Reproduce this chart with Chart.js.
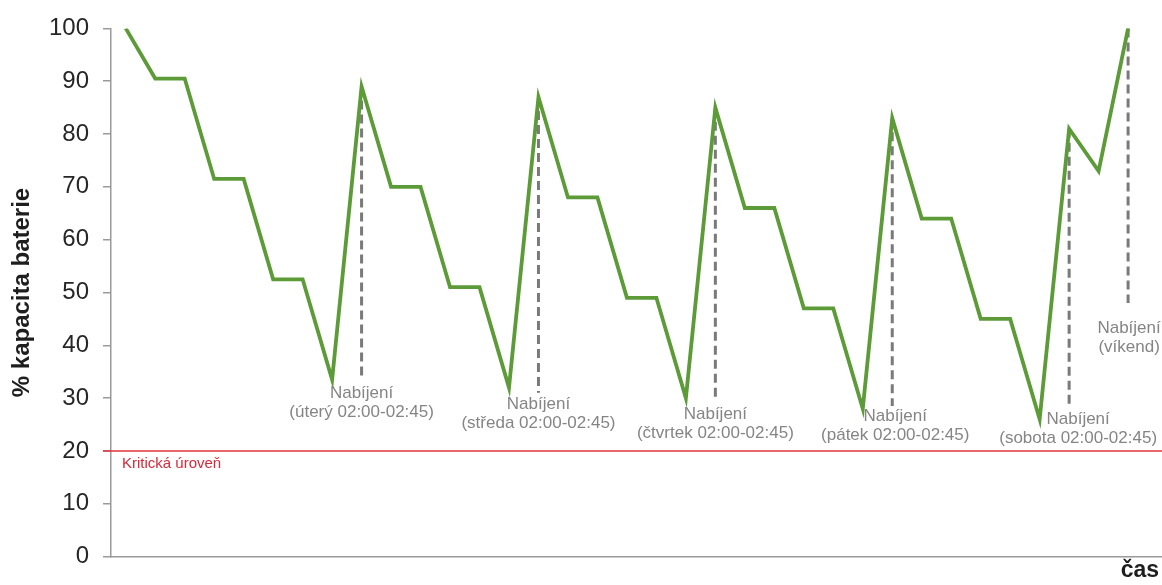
<!DOCTYPE html>
<html>
<head>
<meta charset="utf-8">
<script src="https://cdn.jsdelivr.net/npm/chart.js@4/dist/chart.umd.min.js"></script>
<style>
  html, body { margin: 0; padding: 0; background: #fff; }
  #wrap { width: 1162px; height: 585px; }
</style>
</head>
<body>
<div id="wrap"><canvas id="c"></canvas></div>
<script>
// Time steps (x) and battery capacity in % (y)
const steps = [0, 1, 2, 3, 4, 5, 6, 7, 8, 9, 10, 11, 12, 13, 14, 15, 16, 17, 18, 19,
               20, 21, 22, 23, 24, 25, 26, 27, 28, 29, 30, 31, 32, 33, 34];
const capacity = [100, 90.5, 90.5, 71.5, 71.5, 52.5, 52.5, 33.5,
                  89, 70, 70, 51, 51, 32,
                  87, 68, 68, 49, 49, 30,
                  85, 66, 66, 47, 47, 28,
                  83, 64, 64, 45, 45, 26,
                  81, 73, 100];
const yTicks = [0, 10, 20, 30, 40, 50, 60, 70, 80, 90, 100];

// Charging moments: step index, label text and where the dashed marker ends
const chargeSteps = [8, 14, 20, 26, 32, 34];
const chargeTitle = 'Nabíjení';
const chargeWhen = ['(úterý 02:00-02:45)', '(středa 02:00-02:45)', '(čtvrtek 02:00-02:45)',
                    '(pátek 02:00-02:45)', '(sobota 02:00-02:45)', '(víkend)'];
const chargeDashEnd = [33.5, 31, 29.5, 28.5, 28, 48];
const chargeLabelAt = [31, 28.9, 26.9, 26.5, 25.9, 43.2];
const chargeLabelShift = [0, 0, 0, 3, 9, 1];

const criticalLevel = 20;
const criticalText = 'Kritická úroveň';
const yTitle = '% kapacita baterie';
const xTitle = 'čas';

const FONT = "'Liberation Sans', Arial, sans-serif";

const overlay = {
  id: 'overlay',
  beforeDatasetsDraw(chart) {
    const { ctx, chartArea, scales: { x, y } } = chart;
    ctx.save();
    // critical level line
    const yc = y.getPixelForValue(criticalLevel);
    ctx.strokeStyle = '#e0323c';
    ctx.lineWidth = 1.5;
    ctx.beginPath();
    ctx.moveTo(chartArea.left - 8, yc);
    ctx.lineTo(chart.width, yc);
    ctx.stroke();
    // dashed charging markers
    ctx.strokeStyle = '#7a7a7a';
    ctx.lineWidth = 3;
    ctx.setLineDash([9, 5]);
    chargeSteps.forEach((s, i) => {
      const px = x.getPixelForValue(s);
      ctx.beginPath();
      ctx.moveTo(px, y.getPixelForValue(capacity[s]));
      ctx.lineTo(px, y.getPixelForValue(chargeDashEnd[i]));
      ctx.stroke();
    });
    ctx.restore();
  },
  afterDraw(chart) {
    const { ctx, chartArea, scales: { x, y } } = chart;
    ctx.save();
    // charging labels
    ctx.fillStyle = '#858585';
    ctx.font = `17px ${FONT}`;
    ctx.textAlign = 'center';
    ctx.textBaseline = 'middle';
    chargeSteps.forEach((s, i) => {
      const px = x.getPixelForValue(s) + chargeLabelShift[i];
      const py = y.getPixelForValue(chargeLabelAt[i]);
      ctx.fillText(chargeTitle, px, py);
      ctx.fillText(chargeWhen[i], px, py + 19);
    });
    // critical level caption
    ctx.fillStyle = '#d42a3a';
    ctx.font = `15px ${FONT}`;
    ctx.textAlign = 'left';
    ctx.fillText(criticalText, chartArea.left + 11, y.getPixelForValue(criticalLevel) + 13);
    // axis titles
    ctx.fillStyle = '#1e1e1e';
    ctx.font = `bold 23px ${FONT}`;
    ctx.textAlign = 'right';
    ctx.fillText(xTitle, chart.width - 3, 571);
    ctx.font = `bold 24px ${FONT}`;
    ctx.translate(22, (chartArea.top + chartArea.bottom) / 2);
    ctx.rotate(-Math.PI / 2);
    ctx.textAlign = 'center';
    ctx.fillText(yTitle, 0, 0);
    ctx.restore();
  }
};

new Chart(document.getElementById('c'), {
  type: 'line',
  data: {
    datasets: [{
      data: steps.map((s, i) => ({ x: s, y: capacity[i] })),
      borderColor: '#5c9b38',
      borderWidth: 3.8,
      pointRadius: 0,
      tension: 0,
      fill: false
    }]
  },
  options: {
    responsive: true,
    maintainAspectRatio: false,
    animation: false,
    events: [],
    layout: { padding: { top: 25, right: 0, bottom: 0, left: 0 } },
    plugins: { legend: { display: false }, tooltip: { enabled: false } },
    scales: {
      x: {
        type: 'linear',
        min: -0.5,
        max: 35.15,
        ticks: { display: false },
        grid: { display: false },
        border: { color: '#9a9a9a', width: 1.5 },
        afterFit(s) { s.height = 28; }
      },
      y: {
        min: 0,
        max: 100,
        afterBuildTicks(s) { s.ticks = yTicks.map(v => ({ value: v })); },
        ticks: { color: '#262626', font: { family: FONT, size: 24 }, padding: 14 },
        grid: { drawOnChartArea: false, drawTicks: true, tickLength: 8, color: '#9a9a9a', lineWidth: 1.5 },
        border: { color: '#9a9a9a', width: 1.5 },
        afterFit(s) { s.width = 111; }
      }
    }
  },
  plugins: [overlay]
});
</script>
</body>
</html>
